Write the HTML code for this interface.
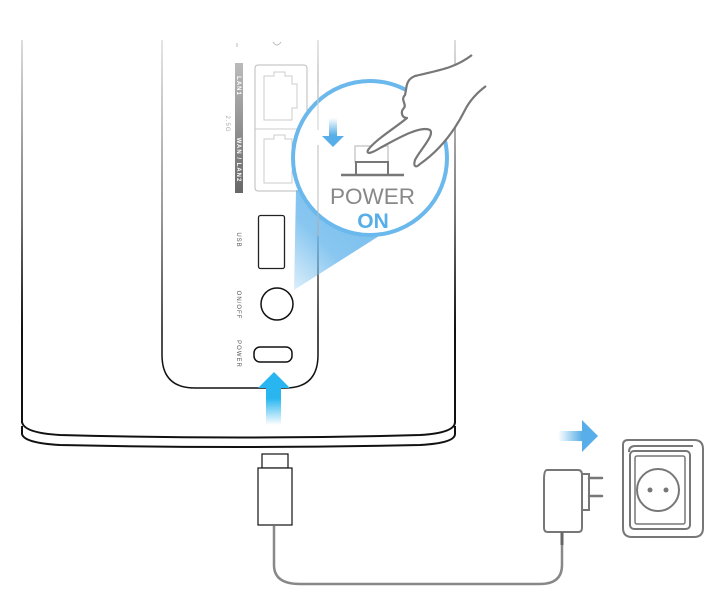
<!DOCTYPE html>
<html><head><style>html,body{margin:0;padding:0;background:#fff;}svg{display:block}</style></head>
<body>
<svg width="716" height="606" viewBox="0 0 716 606" xmlns="http://www.w3.org/2000/svg" font-family="Liberation Sans, sans-serif">
<defs>
<linearGradient id="fade" gradientUnits="userSpaceOnUse" x1="0" y1="40" x2="0" y2="330">
<stop offset="0" stop-color="#ddd"/><stop offset="0.6" stop-color="#777"/><stop offset="1" stop-color="#111"/></linearGradient>
<linearGradient id="upArr" x1="0" y1="1" x2="0" y2="0"><stop offset="0" stop-color="#29b6f0" stop-opacity="0"/><stop offset="0.5" stop-color="#29b6f0"/><stop offset="1" stop-color="#29b6f0"/></linearGradient>
<linearGradient id="rArr" x1="0" y1="0" x2="1" y2="0"><stop offset="0" stop-color="#58aee8" stop-opacity="0"/><stop offset="0.6" stop-color="#58aee8"/><stop offset="1" stop-color="#58aee8"/></linearGradient>
<linearGradient id="dArr" x1="0" y1="0" x2="0" y2="1"><stop offset="0" stop-color="#58aee8" stop-opacity="0"/><stop offset="0.6" stop-color="#58aee8"/><stop offset="1" stop-color="#58aee8"/></linearGradient>
<linearGradient id="cone" gradientUnits="userSpaceOnUse" x1="290" y1="290" x2="370" y2="210"><stop offset="0" stop-color="#6ab8ec" stop-opacity="0.2"/><stop offset="0.5" stop-color="#6ab8ec" stop-opacity="0.8"/><stop offset="1" stop-color="#6ab8ec" stop-opacity="0.9"/></linearGradient>
<linearGradient id="bar" gradientUnits="userSpaceOnUse" x1="0" y1="63" x2="0" y2="195"><stop offset="0" stop-color="#bbb"/><stop offset="1" stop-color="#666"/></linearGradient>
</defs>
<line x1="22" y1="40" x2="22" y2="423" stroke="url(#fade)" stroke-width="2"/>
<line x1="455" y1="40" x2="455" y2="423" stroke="url(#fade)" stroke-width="2"/>
<path d="M22,422 Q24,433 60,435 Q240,440 420,435 Q455,433 455,422" fill="none" stroke="#111" stroke-width="2"/>
<path d="M22,426 L22,434 Q24,443 60,445 Q240,449 420,445 Q455,443 455,434 L455,426" fill="none" stroke="#111" stroke-width="2"/>
<path d="M162,40 L162,355 Q162,388 195,388 L285,388 Q318,388 318,355 L318,40" fill="none" stroke="url(#fade)" stroke-width="1.5"/>
<path d="M237,47 l0,-4 M273,42 q4,6 8,0" stroke="#bbb" fill="none"/>
<rect x="235" y="63" width="8" height="130" fill="url(#bar)"/>
<text transform="translate(237,86) rotate(90)" font-size="6" font-weight="bold" fill="#fff" text-anchor="middle" letter-spacing="1">LAN1</text>
<text transform="translate(237,160) rotate(90)" font-size="6" font-weight="bold" fill="#fff" text-anchor="middle" letter-spacing="1">WAN / LAN2</text>
<text transform="translate(226,124) rotate(90)" font-size="6" fill="#aaa" text-anchor="middle" letter-spacing="1">2.5G</text>
<text transform="translate(237,240) rotate(90)" font-size="6" fill="#555" text-anchor="middle" letter-spacing="1">USB</text>
<text transform="translate(237,305) rotate(90)" font-size="6" fill="#555" text-anchor="middle" letter-spacing="1">ON/OFF</text>
<text transform="translate(237,354) rotate(90)" font-size="6" fill="#555" text-anchor="middle" letter-spacing="1">POWER</text>
<rect x="255" y="65" width="52" height="126" rx="3" fill="none" stroke="#bbb"/>
<line x1="255" y1="129" x2="307" y2="129" stroke="#ccc"/>
<path d="M264,120 L264,76 L274,76 L274,72 L285,72 L285,76 L292,76 L292,84 L297,84 L297,108 L292,108 L292,120 Z" fill="none" stroke="#ccc"/>
<path d="M264,183 L264,139 L274,139 L274,135 L285,135 L285,139 L292,139 L292,147 L297,147 L297,171 L292,171 L292,183 Z" fill="none" stroke="#ccc"/>
<rect x="258.5" y="215.5" width="26" height="53" rx="2" fill="none" stroke="#222" stroke-width="1.3"/>
<circle cx="277" cy="304" r="16" fill="none" stroke="#111" stroke-width="1.5"/>
<rect x="254" y="347" width="38" height="15" rx="6" fill="none" stroke="#111" stroke-width="1.5"/>
<path d="M294,290 L296,190 L420,210 Z" fill="url(#cone)"/>
<circle cx="370" cy="158" r="77" fill="#fff" stroke="#6ab8ec" stroke-width="4"/>
<path d="M318,83 L318,130" stroke="#ccc"/>
<path d="M318,145 L318,236" stroke="#bbb"/>
<path d="M329,118 L337,118 L337,136 L344,136 L333,147 L322,136 L329,136 Z" fill="url(#dArr)"/>
<rect x="355" y="146" width="33" height="16" fill="none" stroke="#ccc" stroke-width="1.5"/>
<rect x="356" y="162" width="32" height="13" fill="#fff" stroke="#777" stroke-width="2"/>
<line x1="341" y1="175" x2="404" y2="175" stroke="#777" stroke-width="2.5"/>
<path d="M472,55 C455,68 440,70 415,76 C405,80 407,88 405,95 C400,100 407,104 404,108 C400,112 402,118 407,118 C395,128 375,140 368,150 C366,155 372,153 380,148 C395,140 420,125 430,130 C435,135 420,150 415,160 C413,167 416,168 420,164 C440,150 455,130 465,110 C470,100 478,92 486,86" fill="#fff" stroke="#777" stroke-width="2.2" stroke-linejoin="round"/>
<text x="330" y="204" font-size="22" fill="#888" textLength="85" lengthAdjust="spacingAndGlyphs">POWER</text>
<text x="373" y="228" font-size="21" font-weight="bold" fill="#58aee8" text-anchor="middle">ON</text>
<path d="M266,425 L266,388 L258,388 L274,372 L290,388 L281,388 L281,425 Z" fill="url(#upArr)"/>
<rect x="262" y="454" width="26" height="14" fill="#fff" stroke="#111" stroke-width="1.2"/>
<rect x="258" y="468" width="34" height="57" fill="#fff" stroke="#111" stroke-width="1.2"/>
<path d="M274,526 L274,565 Q274,584 300,584 L540,584 Q562,584 562,565 L562,532" fill="none" stroke="#888" stroke-width="2.5"/>
<path d="M547,470 L578,470 Q582,470 582,475 L582,528 Q582,532 578,532 L548,532 Q544,532 544,528 L544,480 Q544,470 547,470 Z" fill="#fff" stroke="#777" stroke-width="2"/>
<rect x="582" y="474" width="7" height="36" fill="#fff" stroke="#777" stroke-width="2"/>
<path d="M589,478 L602,478 M589,496 L602,496" stroke="#777" stroke-width="2.5" stroke-linecap="round"/>
<line x1="562" y1="532" x2="562" y2="545" stroke="#666" stroke-width="3"/>
<path d="M558,431 L582,431 L582,420 L598,436 L582,452 L582,441 L558,441 Z" fill="url(#rArr)"/>
<path d="M628,440 L694,440 Q703,440 703,449 L703,528 Q703,537 694,537 L632,537 Q623,537 623,528 L623,445 Q623,440 628,440 Z" fill="#fff" stroke="#777" stroke-width="2"/>
<path d="M629,452 Q629,446 635,446 L693,446" fill="none" stroke="#777" stroke-width="2"/>
<rect x="630" y="451" width="60" height="78" rx="4" fill="none" stroke="#777" stroke-width="2"/>
<rect x="635" y="456" width="50" height="68" rx="2" fill="none" stroke="#777" stroke-width="1.5"/>
<circle cx="658" cy="490" r="21" fill="none" stroke="#777" stroke-width="2"/>
<circle cx="650" cy="490" r="2.5" fill="#777"/><circle cx="666" cy="490" r="2.5" fill="#777"/>
</svg>
</body></html>
